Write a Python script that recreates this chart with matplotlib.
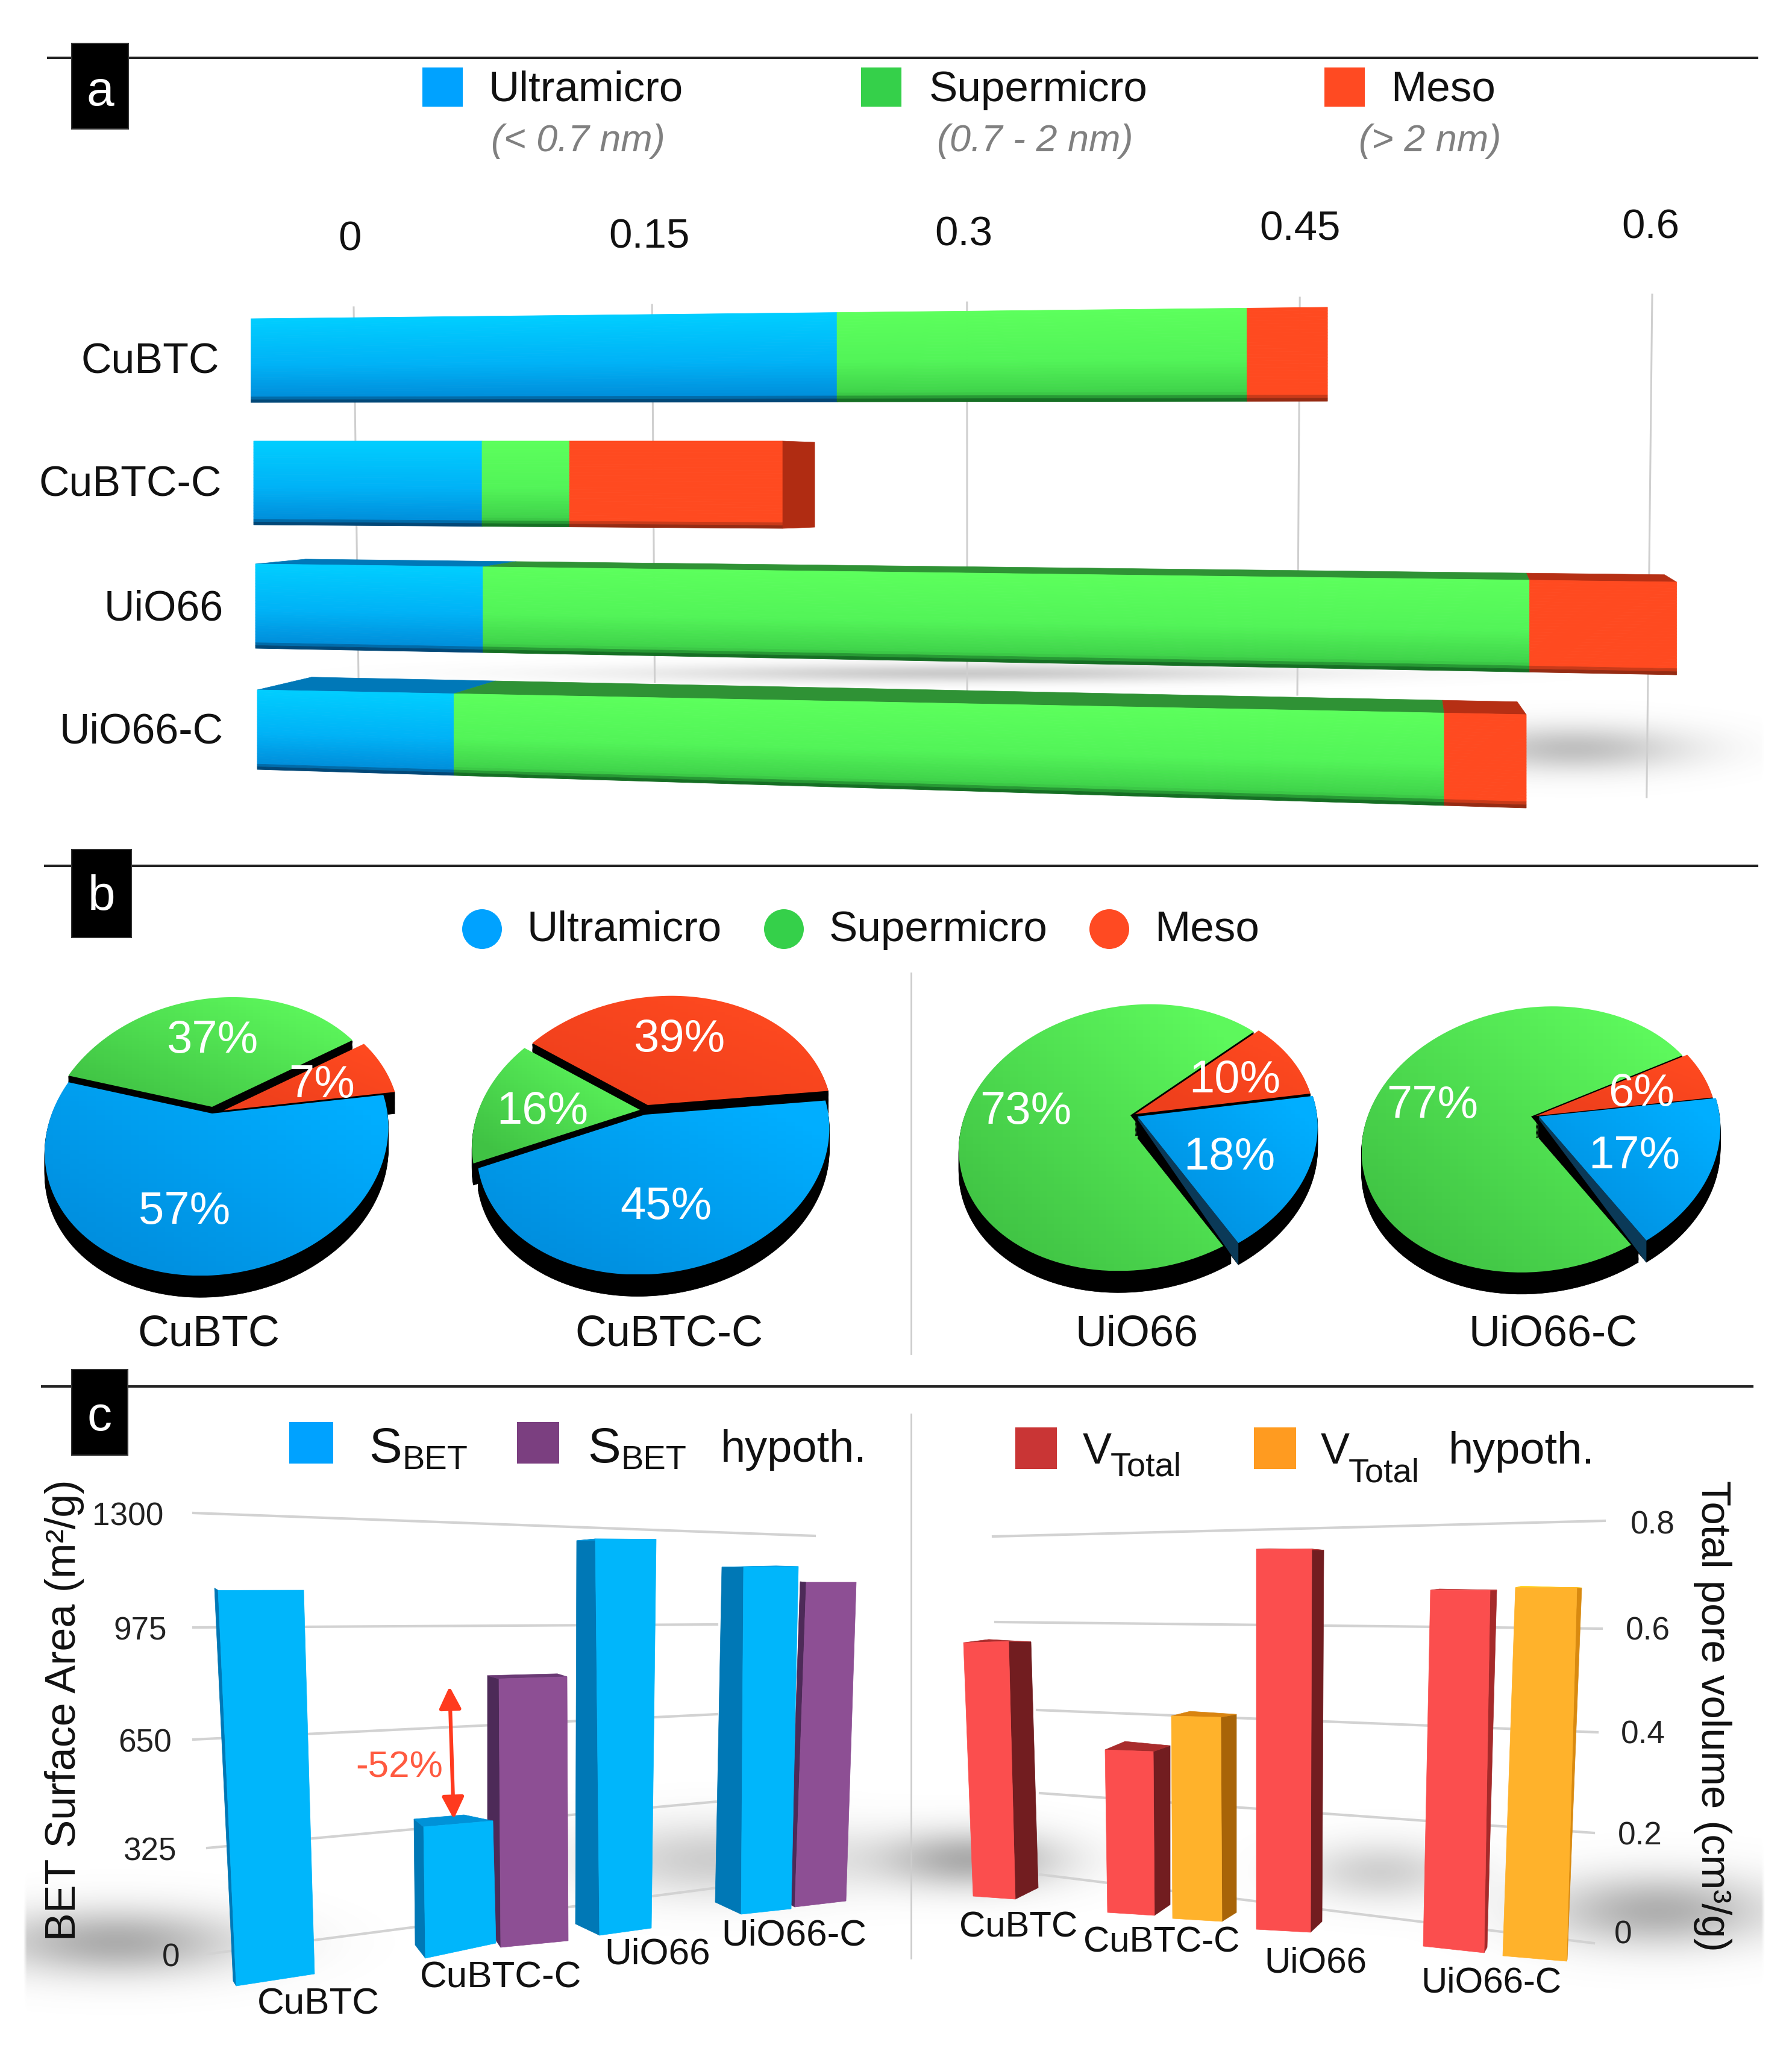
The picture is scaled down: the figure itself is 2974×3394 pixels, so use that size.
import numpy as np
import matplotlib
matplotlib.use('Agg')
import matplotlib.pyplot as plt
from matplotlib.colors import LinearSegmentedColormap as LSC
from matplotlib.patches import Polygon, Rectangle, Ellipse

plt.rcParams['font.family'] = ['Liberation Sans', 'DejaVu Sans']

W, H = 2974, 3394

# ---- data ----
materials = ['CuBTC', 'CuBTC-C', 'UiO66', 'UiO66-C']
pore_names = ['Ultramicro', 'Supermicro', 'Meso']
pore_ranges = ['(< 0.7 nm)', '(0.7 - 2 nm)', '(> 2 nm)']

# panel a, cm3/g
ultra_vol = [0.2475, 0.0964, 0.096, 0.083]
super_vol = [0.173, 0.0369, 0.4418, 0.418]
meso_vol = [0.034, 0.090, 0.062, 0.0346]
a_ticks = [0, 0.15, 0.3, 0.45, 0.6]
a_tick_labels = ['0', '0.15', '0.3', '0.45', '0.6']

# panel b, percent
ultra_pct = [57, 45, 18, 17]
super_pct = [37, 16, 73, 77]
meso_pct = [7, 39, 10, 6]

# panel c
bet_values = [1100, 400, 830, 1180, 1080, 1000]
bet_ticks = [0, 325, 650, 975, 1300]
vol_values = [0.55, 0.34, 0.42, 0.76, 0.68, 0.70]
vol_ticks = [0, 0.2, 0.4, 0.6, 0.8]
vol_tick_labels = ['0', '0.2', '0.4', '0.6', '0.8']

# ---- colours ----
BLUE, GREEN, RED = '#00a2ff', '#35d04a', '#ff4a22'
bar_cmaps = [
    LSC.from_list('u', [(0, '#00ceff'), (.55, '#00b2f6'), (.92, '#0090dc'), (1, '#03365f')]),
    LSC.from_list('s', [(0, '#5cff5c'), (.55, '#52f458'), (.91, '#3fd24a'), (1, '#0d5a1c')]),
    LSC.from_list('m', [(0, '#ff4a20'), (.92, '#ff4a20'), (1, '#7c2410')]),
]
top_cols = ['#0078b8', '#2f9235', '#b62f14']
pie_cmaps = [LSC.from_list('u', ['#008ddd', '#00aeff']),
             LSC.from_list('s', ['#40c244', '#5df85c']),
             LSC.from_list('m', ['#ee3f1c', '#ff4a20'])]

fig = plt.figure(figsize=(W / 100, H / 100), dpi=100, facecolor='white')


def new_ax(x0=0, y0=0, x1=W, y1=H, xlim=None, ylim=None, z=1):
    ax = fig.add_axes([x0 / W, 1 - y1 / H, (x1 - x0) / W, (y1 - y0) / H], zorder=z)
    ax.set_axis_off()
    ax.patch.set_alpha(0)
    ax.set_autoscale_on(False)
    ax.set_xlim(xlim if xlim else (x0, x1))
    ax.set_ylim(ylim if ylim else (y1, y0))
    return ax


def txt(ax, x, y, s, em, **kw):
    kw.setdefault('ha', 'center')
    kw.setdefault('va', 'center')
    kw.setdefault('color', '#111111')
    if kw['va'] == 'center' and 'rotation' not in kw:
        y = y + 6  # glyphs sit a little high otherwise
    return ax.text(x, y, s, fontsize=em * 0.72, **kw)


ax_bg = new_ax(z=0)
ax_top = new_ax(z=10)

# soft floor shadows
xx, yy = np.meshgrid(np.arange(0, W, 6), np.arange(0, H, 6))
shadow = np.zeros_like(xx, dtype=float)
for cx, cy, sx, sy, am in [(1600, 1115, 520, 15, .32), (2610, 1240, 190, 38, .38),
                           (190, 3222, 210, 55, .50), (1190, 3085, 220, 62, .30),
                           (1610, 3085, 150, 48, .50), (2290, 3105, 130, 50, .28),
                           (2750, 3170, 190, 60, .48)]:
    shadow += am * np.exp(-((xx - cx) / sx) ** 2 - ((yy - cy) / sy) ** 2)
shadow[(xx < 38) | (xx > 2925)] = 0
rgba = np.zeros(shadow.shape + (4,))
rgba[..., :3] = 0.35
rgba[..., 3] = np.clip(shadow, 0, 1)
ax_bg.imshow(rgba, extent=(0, W, H, 0), aspect='auto', interpolation='bilinear')

# section rules and letters
for y, x0, x1, box, letter, ly in [(96, 80, 2916, (119, 72, 213, 214), 'a', 148),
                                   (1437, 75, 2916, (119, 1410, 218, 1556), 'b', 1483),
                                   (2301, 70, 2908, (119, 2273, 212, 2415), 'c', 2347)]:
    ax_top.plot([x0, x1], [y, y], color='#222222', lw=3)
    ax_top.add_patch(Rectangle((box[0], box[1]), box[2] - box[0], box[3] - box[1], fc='black', ec='#333333', lw=1.5, zorder=3))
    txt(ax_top, (box[0] + box[2]) / 2, ly, letter, 82, color='white', zorder=4)

# ---- panel a ----
for x0, col in zip([701, 1429, 2198], [BLUE, GREEN, RED]):
    ax_top.add_patch(Rectangle((x0, 112), 67, 65, fc=col, ec='none'))
for name, sub, lx, slx in zip(pore_names, pore_ranges, [811, 1542, 2308], [815, 1555, 2255]):
    txt(ax_top, lx, 144, name, 71, ha='left')
    txt(ax_top, slx, 228, sub, 63, ha='left', style='italic', color='#808080')

# back plane with the value axis, perspective squeezed scale
ax_grid = new_ax(587, 489, 2742, 1323, xlim=(0, 0.6), ylim=(1323, 489), z=1)
ax_grid.set_xscale('function', functions=(lambda v: v / (1 - 0.175 * v), lambda u: u / (1 + 0.175 * u)))
ax_grid.set_xlim(0, 0.6)
ax_grid.set_axis_off()
grid_tops = [510, 506, 502, 494, 489]
grid_bots = [1128, 1132, 1157, 1153, 1323]
tick_ys = [392, 388, 384, 375, 372]
tick_dx = [-6, -5, -6, 0, -3]
for v, lab, t, b, ty, d in zip(a_ticks, a_tick_labels, grid_tops, grid_bots, tick_ys, tick_dx):
    ax_grid.plot([v, v * 0.992 + 0.0025], [t, b], color='#cfcfcf', lw=2.2, clip_on=False)
    ax_grid.annotate(lab, (v, ty), xytext=(d * 0.72, -4), textcoords='offset points', ha='center', va='center',
                     fontsize=69 * 0.72, color='#111111', annotation_clip=False)

K = 3932.0
ax_a = new_ax(416, 0, 416 + K * 0.65, H, xlim=(0, 0.65), ylim=(H, 0), z=2)
row_lefts = [0, 5 / K, 8 / K, 11 / K]
row_top = [(529, 510), (732, 732), (936, 966), (1145, 1186)]
row_bot = [(668, 666), (871, 877), (1076, 1120), (1277, 1341)]
row_back = [None, None, (927, 954), (1122, 1165)]
row_back_shift = [None, None, [83, 55, -5, -20], [90, 69, -3, -15]]
row_side = [0, 53, 0, 0]
label_ys = [596, 800, 1005, 1209]
label_xs = [364, 368, 371, 371]

for i, name in enumerate(materials):
    edges = np.cumsum([row_lefts[i], ultra_vol[i], super_vol[i], meso_vol[i]])
    x0, xe = edges[0], edges[-1]

    def ypos(x, a):
        t = (x - x0) / (xe - x0)
        top = row_top[i][0] + t * (row_top[i][1] - row_top[i][0])
        bot = row_bot[i][0] + t * (row_bot[i][1] - row_bot[i][0])
        return top + a * (bot - top)

    for j in range(3):
        xa, xb = edges[j], edges[j + 1]
        n = 30
        for s in range(n):
            a, b = s / n, (s + 1) / n
            c = bar_cmaps[j]((a + b) / 2)
            ax_a.fill([xa, xb, xb, xa], [ypos(xa, a), ypos(xb, a), ypos(xb, b), ypos(xa, b)],
                      color=c, lw=0.6, zorder=3)
        if row_back[i]:
            sh = row_back_shift[i]
            xa2, xb2 = xa + sh[j] / K, xb + sh[j + 1] / K
            tb = row_back[i]
            ya2 = tb[0] + (xa2 - x0) / (xe - x0) * (tb[1] - tb[0])
            yb2 = tb[0] + (xb2 - x0) / (xe - x0) * (tb[1] - tb[0])
            ax_a.fill([xa, xb, xb2, xa2], [ypos(xa, 0), ypos(xb, 0), yb2, ya2], color=top_cols[j], lw=0.5, zorder=2)
    if row_side[i]:
        xs = xe + row_side[i] / K
        ax_a.fill([xe, xs, xs, xe], [ypos(xe, 0), ypos(xe, 0) + 2, ypos(xe, 1) - 2, ypos(xe, 1)],
                  color='#b02c12', lw=0.5, zorder=3)
    txt(ax_top, label_xs[i], label_ys[i], name, 70, ha='right')

# ---- panel b ----
for cx, lx, col, name in zip([800, 1301, 1841], [875, 1376, 1916], [BLUE, GREEN, RED], pore_names):
    ax_top.add_patch(Ellipse((cx, 1542), 66, 66, fc=col, ec='none'))
    txt(ax_top, lx, 1538, name, 71, ha='left')
ax_top.plot([1512, 1512], [1615, 2247], color='#cccccc', lw=2)

ax_pie = new_ax(0, 1560, W, 2270, z=2)
pie_apex = [(352, 1837), (1067, 1842), (1876, 1851), (2541, 1853)]
pie_R = [278, 285, 286, 285]
pie_q = [217, 215, 215, 214]
pie_p = [.193, .188, .167, .172]
pie_r = [-.045, -.065, -.04, -.05]
pie_start = [8, 6, 9, 8]
pie_depth = [37, 36, 37, 37]
pie_offsets = [  # ultra, super, meso
    [(0, 11), (0, 0), (19, 6)],
    [(3, 8), (-5, 0), (8, -8)],
    [(12, 2), (0, 0), (8, -2)],
    [(13, 0), (0, 0), (8, -1)],
]
pie_order = [[1, 2, 0], [2, 1, 0], [1, 2, 0], [1, 2, 0]]
pie_exploded = [False, False, True, True]
pct_pos = [
    [(306, 2006), (352, 1722), (534, 1795)],
    [(1105, 1998), (900, 1840), (1127, 1719)],
    [(2040, 1915), (1702, 1840), (2049, 1787)],
    [(2712, 1913), (2377, 1830), (2724, 1810)],
]
pie_names_x = [346, 1110, 1887, 2578]
SHEAR = 0.13

for i in range(4):
    ax0, ay0 = pie_apex[i]
    R, q, p, r = pie_R[i], pie_q[i], pie_p[i], pie_r[i]
    vals = [meso_pct[i], super_pct[i], ultra_pct[i]]
    degs = np.array(vals) / sum(vals) * 360
    starts = pie_start[i] + np.concatenate([[0], np.cumsum(degs)[:-1]])
    # slices are kept in ultra, super, meso order from here on
    spans = {2: (starts[0], starts[0] + degs[0]), 1: (starts[1], starts[1] + degs[1]), 0: (starts[2], starts[2] + degs[2])}
    z = 1
    for k in pie_order[i]:
        a = np.radians(np.linspace(spans[k][0], spans[k][1], 120))
        X, Y = np.cos(a), np.sin(a)
        w = 1 + p * Y + r * X
        sy = q * Y / w
        sx = R * X / w + SHEAR * sy
        ox, oy = pie_offsets[i][k]
        px = np.r_[ax0 + ox, ax0 + ox + sx]
        py = np.r_[ay0 + oy, ay0 + oy - sy]
        d = pie_depth[i]
        for dd in np.arange(2, d + 1, 2):
            ax_pie.fill(px, py + dd, color='black', lw=0.5, zorder=z)
        if pie_exploded[i] and k == 0:
            ax_pie.fill([px[0], px[1], px[1], px[0]], [py[0], py[1], py[1] + d, py[0] + 5], color='#0b3a58', lw=0, zorder=z)
        z += 1
        n = 40
        uu, vv = np.meshgrid(np.linspace(0, 1, n), np.linspace(1, 0, n))
        im = ax_pie.imshow((uu + vv) / 2, extent=(px.min(), px.max(), py.max(), py.min()), aspect='auto',
                           cmap=pie_cmaps[k], vmin=0.1, vmax=0.9, zorder=z)
        clip = Polygon(np.c_[px, py], transform=ax_pie.transData, fc='none', ec='none')
        ax_pie.add_patch(clip)
        im.set_clip_path(clip)
        z += 1
    for pos, v in zip(pct_pos[i], [ultra_pct[i], super_pct[i], meso_pct[i]]):
        txt(ax_top, pos[0], pos[1], f'{v}%', 76, color='white')
    txt(ax_top, pie_names_x[i], 2209, materials[i], 72)

# ---- panel c ----
ax_top.plot([1512, 1512], [2347, 3250], color='#cccccc', lw=2)


def draw_bars(ax, values, geo, order, y_px, unit, front, side, topc):
    for i in order:
        v = values[i]
        xlt, xrt, xlb, xrb, bl, br, sl, sr, sxt, sxb, sb, ss, dx, dy = geo[i]
        # heights come from value times the bar's own perspective scale
        yb_l, yb_r = y_px(bl), y_px(br)
        yt_l, yt_r = yb_l + v * sl / unit, yb_r + v * sr / unit
        ys_b = y_px(sb)
        ys_t = ys_b + v * ss / unit
        right_side = sxt > xrt - 5
        ex_t, ex_b, ey_t, ey_b = (xrt, xrb, yt_r, yb_r) if right_side else (xlt, xlb, yt_l, yb_l)
        ax.fill([ex_t, sxt, sxb, ex_b], [ey_t, ys_t, ys_b, ey_b], color=side[i], lw=0.5, zorder=3)
        if dx:
            ax.fill([xlt, xrt, sxt if right_side else sxt + dx, sxt + dx if right_side else sxt],
                    [yt_l, yt_r, ys_t if right_side else ys_t - dy / unit, ys_t - dy / unit if right_side else ys_t],
                    color=topc[i], lw=0.5, zorder=3)
        ax.fill([xlt, xrt, xrb, xlb], [yt_l, yt_r, yb_r, yb_l], color=front[i], lw=0.5, zorder=4)


# left chart: BET area
S_bet, Y_bet = 0.55, 3243
ax_bet = new_ax(0, 2450, 1512, 3394, xlim=(0, 1512), ylim=((Y_bet - 3394) / S_bet, (Y_bet - 2450) / S_bet), z=2)
bet_y = lambda px: (Y_bet - px) / S_bet
bet_grid_left = [3243, 3067, 2887, 2701, 2511]
bet_grid_right = [3133, 2990, 2845, 2696, 2549]
for tick, yl, yr, tx in zip(bet_ticks, bet_grid_left, bet_grid_right, [284, 249, 241, 233, 212]):
    x_l = 344 if tick < 400 else 321 + (650 - min(tick, 650)) * 0.03
    ax_bet.plot([x_l, 1352 if tick == 1300 else 1190], [bet_y(yl), bet_y(yr)], color='#d2d2d2', lw=3, zorder=1)
    txt(ax_top, tx, yl, str(tick), 53, color='#222222')

bet_geo = [
    (362, 504, 392, 522, 3296, 3276, .597, .579, 356, 387, 3288, .593, 0, 0),
    (703, 818, 706, 823, 3250, 3225, .545, .5075, 687, 689, 3228, .5225, 83, -7),
    (828, 941, 831, 943, 3232, 3221, .537, .528, 809, 809, 3200, .505, 116, -3),
    (988, 1089, 995, 1081, 3212, 3200, .5576, .547, 957, 955, 3193, .539, 100, -2),
    (1234, 1325, 1230, 1313, 3177, 3168, .534, .526, 1198, 1187, 3157, .515, 90, -2),
    (1338, 1421, 1319, 1404, 3165, 3155, .539, .529, 1328, 1310, 3160, .535, 0, 0),
]
b_f, p_f = '#00b6fb', '#8d4f94'
b_s, p_s = '#0078b6', '#4d2a58'
draw_bars(ax_bet, bet_values, bet_geo, [0, 2, 1, 3, 5, 4], bet_y, S_bet,
          [b_f, b_f, p_f, b_f, b_f, p_f], [b_s, b_s, p_s, b_s, b_s, p_s],
          ['#33c4ff', '#0092d8', '#6b3a75', '#0096dc', '#0096dc', p_f])
ax_bet.annotate('', xy=(746, bet_y(2799)), xytext=(753, bet_y(3019)),
                arrowprops=dict(arrowstyle='<|-|>', color='#ff3a1e', lw=4.5, mutation_scale=55, shrinkA=0, shrinkB=0), zorder=6)
txt(ax_top, 663, 2928, '-52%', 62, color='#ff5a40')
for x, y, name in zip([528, 831, 1091, 1318], [3321, 3277, 3238, 3207], materials):
    txt(ax_top, x, y, name, 62)

# right chart: pore volume
S_vol, Y_vol = 800.0, 3250
ax_vol = new_ax(1512, 2450, W, 3394, xlim=(1512, W), ylim=((Y_vol - 3394) / S_vol, (Y_vol - 2450) / S_vol), z=2)
vol_y = lambda px: (Y_vol - px) / S_vol
vol_grid_left = [3111, 2976, 2838, 2692, 2550]
vol_grid_right = [3225, 3042, 2875, 2703, 2524]
vol_lab_y = [3206, 3042, 2873, 2701, 2525]
for tick, lab, yl, yr, tx, ty, xl, xr in zip(vol_ticks, vol_tick_labels, vol_grid_left, vol_grid_right,
                                            [2694, 2722, 2727, 2735, 2743], vol_lab_y,
                                            [1726, 1726, 1721, 1652, 1648], [2645, 2645, 2651, 2658, 2663]):
    ax_vol.plot([xl, xr], [vol_y(yl), vol_y(yr)], color='#d2d2d2', lw=3, zorder=1)
    txt(ax_top, tx, ty, lab, 53, color='#222222')

vol_geo = [
    (1599, 1674, 1615, 1685, 3147, 3152, 765, 778, 1711, 1723, 3133, 742, -70, -4),
    (1834, 1914, 1838, 1916, 3174, 3179, 794, 800, 1942, 1942, 3161, 776, -75, -7),
    (1944, 2026, 1946, 2028, 3184, 3189, 800, 807, 2052, 2052, 3174, 783, -77, -5),
    (2085, 2177, 2085, 2175, 3202, 3207, 830, 837, 2197, 2194, 3189, 811, -90, -2),
    (2374, 2473, 2362, 2463, 3230, 3241, 869, 885, 2484, 2468, 3232, 872, -95, -2),
    (2515, 2617, 2494, 2600, 3246, 3255, 873, 886, 2625, 2601, 3252, 881, -100, -3),
]
r_f, o_f = '#fb4e4e', '#ffb22b'
r_s, o_s = '#721d20', '#a86408'
draw_bars(ax_vol, vol_values, vol_geo, [0, 1, 2, 3, 4, 5], vol_y, S_vol,
          [r_f, r_f, o_f, r_f, r_f, o_f], [r_s, r_s, o_s, r_s, '#a52a2a', '#d98a10'],
          ['#a92c2c', '#a92c2c', '#d98410', '#c23a3a', '#c23a3a', '#ffd21a'])
for x, y, name in zip([1690, 1928, 2183, 2475], [3193, 3218, 3252, 3285], materials):
    txt(ax_top, x, y, name, 60)

# axis titles
txt(ax_top, 107, 2838, 'BET Surface Area (m²/g)', 70, rotation=90)
txt(ax_top, 2842, 2848, 'Total pore volume (cm³/g)', 69, rotation=-90)

# legends of panel c
ax_top.add_patch(Rectangle((480, 2360), 73, 69, fc=BLUE, ec='none'))
ax_top.add_patch(Rectangle((858, 2360), 70, 69, fc='#7b3f80', ec='none'))
ax_top.add_patch(Rectangle((1685, 2369), 69, 69, fc='#c93535', ec='none'))
ax_top.add_patch(Rectangle((2081, 2369), 70, 69, fc='#ff9b20', ec='none'))
for x in [612, 975]:
    txt(ax_top, x, 2427, 'S', 82, ha='left', va='baseline')
    txt(ax_top, x + 55, 2438, 'BET', 56, ha='left', va='baseline')
txt(ax_top, 1196, 2426, 'hypoth.', 74, ha='left', va='baseline')
for x, dy in [(1797, 0), (2192, 9)]:
    txt(ax_top, x, 2429, 'V', 72, ha='left', va='baseline')
    txt(ax_top, x + 46, 2450 + dy, 'Total', 56, ha='left', va='baseline')
txt(ax_top, 2404, 2429, 'hypoth.', 74, ha='left', va='baseline')

fig.savefig('out.png', dpi=100, facecolor='white')
